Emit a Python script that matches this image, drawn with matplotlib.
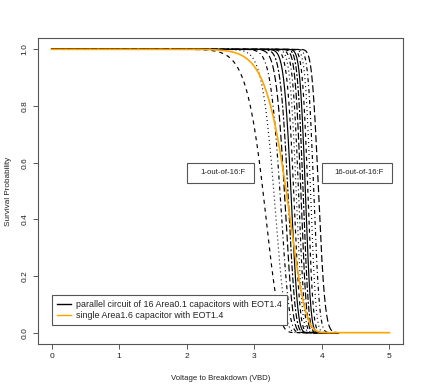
import numpy as np
import matplotlib
matplotlib.use("Agg")
import matplotlib.pyplot as plt
from matplotlib.patches import Rectangle
from matplotlib.lines import Line2D
from math import comb

# ---------------- data ----------------
n_caps = 16                         # capacitors in the parallel circuit
k_failed = list(range(1, 17))       # k-out-of-16 failure curves
cell_scale = 3.71                   # Weibull scale (V) of one Area0.1 capacitor
cell_shape = 18.4                   # Weibull shape of one Area0.1 capacitor
single_scale = 3.55                 # Weibull scale (V) of single Area1.6 capacitor
single_shape = 16.5                 # Weibull shape of single Area1.6 capacitor
black_v_range = [0.0, 4.25]
orange_v_range = [0.0, 5.0]

x_ticks = [0, 1, 2, 3, 4, 5]
y_ticks = [0.0, 0.2, 0.4, 0.6, 0.8, 1.0]
x_tick_labels = ["0", "1", "2", "3", "4", "5"]
y_tick_labels = ["0.0", "0.2", "0.4", "0.6", "0.8", "1.0"]

legend_labels = ["parallel circuit of 16 Area0.1 capacitors with EOT1.4",
                 "single Area1.6 capacitor with EOT1.4"]
box_texts = ["1-out-of-16:F", "16-out-of-16:F"]

# ---------------- style ----------------
plt.rcParams["font.family"] = ["Liberation Sans", "DejaVu Sans"]
plt.rcParams["lines.scale_dashes"] = False
FS = 5.6
FS_TICK = 6.0
FS_LEG = 6.4
TXT = "#222222"
EDGE = "#555555"
px = 0.72  # points per pixel at dpi 100

# R lty patterns (in pixels): dashed, dotted, dotdash, longdash, twodash, solid
lty_patterns = [(4, 4), (1, 3), (1, 3, 4, 3), (7, 3), (2, 2, 6, 2), None]

fig = plt.figure(figsize=(4.23, 3.92), dpi=100)
ax = fig.add_axes([38 / 423, 48 / 392, 365 / 423, 306 / 392])

# ---------------- curves ----------------
v_black = np.linspace(black_v_range[0], black_v_range[1], 800)
F = 1.0 - np.exp(-(v_black / cell_scale) ** cell_shape)
for i, k in enumerate(k_failed):
    surv = np.zeros_like(v_black)
    for j in range(k):
        surv += comb(n_caps, j) * F ** j * (1 - F) ** (n_caps - j)
    pat = lty_patterns[i % len(lty_patterns)]
    line, = ax.plot(v_black, surv, color="black", lw=0.85)
    if pat is not None:
        line.set_dashes([p * px for p in pat])

v_or = np.linspace(orange_v_range[0], orange_v_range[1], 800)
s_or = np.exp(-(v_or / single_scale) ** single_shape)
ax.plot(v_or, s_or, color="orange", lw=1.2)

# ---------------- axes ----------------
ax.set_xlim(-0.2, 5.2)
ax.set_ylim(-0.04, 1.04)
ax.set_xticks(x_ticks)
ax.set_xticklabels(x_tick_labels)
ax.set_yticks(y_ticks)
ax.set_yticklabels(y_tick_labels, rotation=90, va="center")
ax.tick_params(axis="both", direction="out", length=3.6, width=0.7,
               color=EDGE, labelsize=FS_TICK, labelcolor=TXT, pad=3)
for s in ax.spines.values():
    s.set_color(EDGE)
    s.set_linewidth(0.8)

ax.set_xlabel("Voltage to Breakdown (VBD)", fontsize=FS, color=TXT)
ax.xaxis.set_label_coords(0.5, -(378 - 344) / 306)
ax.xaxis.label.set_va("center")
ax.set_ylabel("Survival Probability", fontsize=FS + 0.3, color=TXT)
ax.yaxis.set_label_coords(-(38 - 8) / 365, 0.5)
ax.yaxis.label.set_va("center")

# ---------------- annotation boxes ----------------
box_x = [(2.0, 3.0), (4.0, 5.04)]
box_y = (0.53, 0.598)
for (x0, x1), t in zip(box_x, box_texts):
    ax.add_patch(Rectangle((x0, box_y[0]), x1 - x0, box_y[1] - box_y[0],
                           fill=True, facecolor="white", edgecolor=EDGE,
                           lw=0.8, zorder=3))
    ax.text((x0 + x1) / 2 + 0.03, sum(box_y) / 2, t, ha="center", va="center",
            fontsize=FS, color=TXT, zorder=4)

# ---------------- legend ----------------
handles = [Line2D([], [], color="black", lw=1.0),
           Line2D([], [], color="orange", lw=1.0)]
leg = ax.legend(handles, legend_labels, loc="lower left",
                bbox_to_anchor=((52 - 38) / 365, (344 - 325) / 306),
                borderaxespad=0, fontsize=FS_LEG, frameon=True, fancybox=False,
                handlelength=1.6, handletextpad=0.6, labelspacing=0.2,
                borderpad=0.55, edgecolor=EDGE, framealpha=1)
leg.get_frame().set_linewidth(0.8)
for t in leg.get_texts():
    t.set_color(TXT)

fig.savefig("out.png", dpi=100)
